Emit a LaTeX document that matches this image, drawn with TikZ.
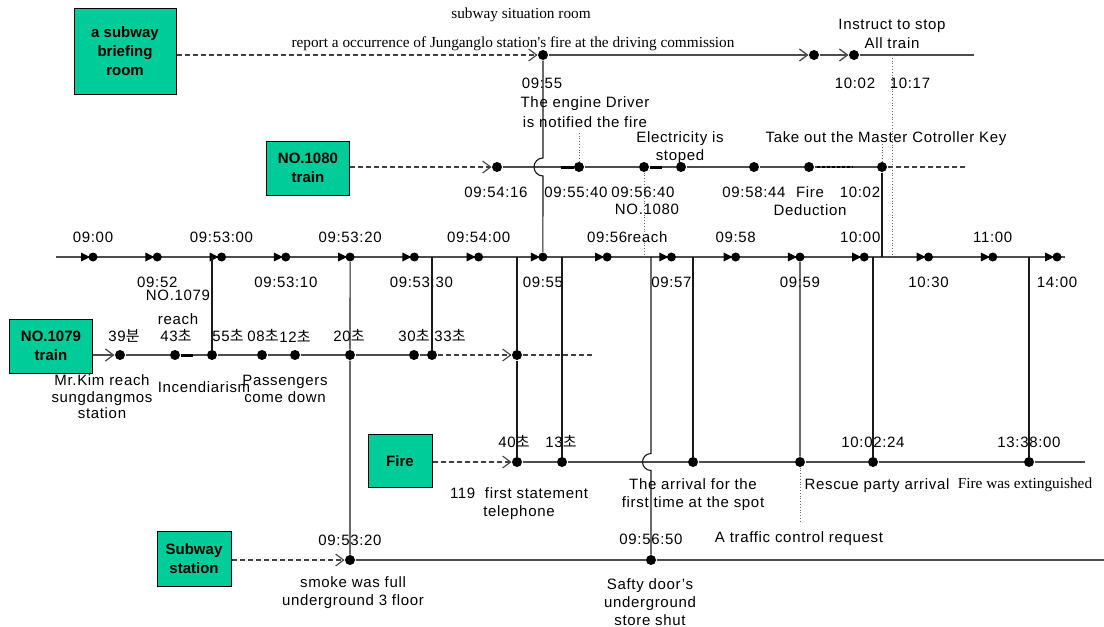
\documentclass[tikz,border=0pt]{standalone}
\usepackage{fontspec}
\setmainfont{Liberation Sans}[LetterSpace=4.5]
\newfontfamily\boxfont{Liberation Sans}
\newfontfamily\timesfont{Liberation Serif}
\newfontfamily\krfont{Noto Sans CJK KR}
\usetikzlibrary{arrows.meta}
\usetikzlibrary{positioning}
\definecolor{boxgreen}{RGB}{0,204,153}
\newcommand{\cho}{{\krfont 초}}
\newcommand{\bun}{{\krfont 분}}
\tikzset{
    box/.style={draw=black, line width=1pt, fill=boxgreen, align=center, inner sep=0pt,
        font=\boxfont\bfseries\fontsize{15}{19}\selectfont},
    tdot/.style={circle, fill=black, inner sep=0pt, minimum size=10pt},
    mdot/.style={circle, fill=black, inner sep=0pt, minimum size=9pt},
    hline/.style={draw=black!70, line width=1.3pt},
    vline/.style={draw=black!90, line width=1.1pt},
    dashline/.style={draw=black!75, line width=1.1pt, dash pattern=on 5pt off 3pt},
    dotline/.style={draw=black!60, line width=0.8pt, dotted},
    barb/.style={-{Straight Barb[length=8pt,width=12pt]}},
    lbl/.style={inner sep=0pt, align=center, font=\fontsize{15}{18}\selectfont},
    tight/.style={inner sep=0pt, align=center, font=\fontsize{15}{16.5}\selectfont},
    tms/.style={inner sep=0pt, font=\timesfont\fontsize{15.3}{18}\selectfont},
}
\begin{document}
\begin{tikzpicture}[x=1pt, y=-1pt, line width=1pt]
\useasboundingbox (0,0) rectangle (1104,627);
	\node[box, minimum width=102pt, minimum height=86pt] (brief) at (125,51) {a subway\\briefing\\room};
	\node[box, minimum width=83pt, minimum height=54pt] (n1080) at (308,168) {NO.1080\\train};
	\node[box, minimum width=83pt, minimum height=54pt] (n1079) at (51,346) {NO.1079\\train};
	\node[box, minimum width=64pt, minimum height=53pt] (fire) at (400,461) {Fire};
	\node[box, minimum width=74pt, minimum height=55pt] (station) at (194,559) {Subway\\station};
% subway situation room
	\node[tdot] (T1) at (543,55) {};
	\node[tdot] (T2) at (814,55) {};
	\node[tdot] (T3) at (854,55) {};
	\coordinate (Tend) at (974,55);
	\coordinate (D1) at (892,55);
	\draw[dashline, barb] (brief.east |- T1) -- (T1);
	\draw[hline, barb] (T1) -- (T2);
	\draw[hline, barb] (T2) -- (T3);
	\draw[hline] (T3) -- (Tend);
% main time line
	\coordinate (ml) at (56,257);
	\coordinate (mr) at (1065,257);
	\draw[hline] (ml) -- (mr);
	\foreach \dx/\t [count=\i] in {0/09:00,0/09:52,0/09:53:00,0/09:53:10,0/09:53:20,7/09:53:30,0/09:54:00,0/09:55,
	    0/{09:56\rlap{reach}},0/09:57,0/09:58,0/09:59,-4/10:00,0/10:30,0/11:00,0/14:00} {
	    \pgfmathsetmacro{\x}{93+(\i-1)*64.27}
	    \node[mdot] (m\i) at (\x,257) {};
	    \fill[black] (\x-12,252.5) -- (\x-12,261.5) -- (\x-3,257) -- cycle;
	    \ifodd\i\relax
	        \node[lbl] (mt\i) at (\x+\dx,237) {\t};
	    \else
	        \node[lbl] (mt\i) at (\x+\dx,282) {\t};
	    \fi
	}
% NO.1080 train
	\foreach \x [count=\i] in {497,579,644,681,754,809,882}
	    \node[tdot] (A\i) at (\x,167) {};
	\coordinate (Aend) at (966,167);
	\coordinate (J1) at (543,158);
	\draw[dashline, barb] (n1080.east |- A1) -- (A1);
	\draw[hline] (A1) -- (A2) -- (A3) -- (A4) -- (A5) -- (A6) -- (A7);
	\draw[dashline] (A7) -- (Aend);
	\draw[black, line width=3pt] (A2) -- ++(-18,0);
	\draw[black, line width=3pt] (A3) -- ++(18,0);
	\draw[black, line width=1.4pt, dash pattern=on 3pt off 2pt] (A6) ++(8,0) -- ++(36,0);
% NO.1079 train
	\foreach \x [count=\i] in {120,175,212,262,295,350,414,432,517}
	    \node[tdot] (B\i) at (\x,355) {};
	\coordinate (Bend) at (592,355);
	\draw[hline, barb] (n1079.east |- B1) -- (B1);
	\draw[hline] (B1) -- (B2) -- (B3) -- (B4) -- (B5) -- (B6) -- (B7) -- (B8);
	\draw[dashline, barb] (B8) -- (B9);
	\draw[dashline] (B9) -- (Bend);
	\draw[black, line width=3pt] (B2) -- ++(18,0);
% Fire
	\foreach \x [count=\i] in {517,562,693,800,873,1029}
	    \node[tdot] (F\i) at (\x,462) {};
	\coordinate (Fend) at (1085,462);
	\coordinate (J2) at (651,453.5);
	\draw[dashline, barb] (fire.east |- F1) -- (F1);
	\draw[hline] (F1) -- (F2) -- (F3) -- (F4) -- (F5) -- (F6) -- (Fend);
% Subway station
	\node[tdot] (S1) at (350,560) {};
	\node[tdot] (S2) at (651,560) {};
	\coordinate (Send) at (1104,560);
	\draw[dashline, barb] (station.east |- S1) -- (S1);
	\draw[hline] (S1) -- (S2) -- (Send);
% vertical links
	\draw[vline] (T1) -- (J1) arc (270:90:9) -- (m8);
	\draw[vline] (A7) -- (A7 |- ml);
	\draw[vline] (B3 |- ml) -- (B3);
	\draw[vline] (m5) -- (B6) -- (S1);
	\draw[vline] (B8 |- ml) -- (B8);
	\draw[vline] (B9 |- ml) -- (B9) -- (F1);
	\draw[vline] (F2 |- ml) -- (F2);
	\draw[vline] (S2 |- ml) -- (J2) arc (270:90:8.5) -- (S2);
	\draw[vline] (F3 |- ml) -- (F3);
	\draw[vline] (m12) -- (F4);
	\draw[vline] (F5 |- ml) -- (F5);
	\draw[vline] (F6 |- ml) -- (F6);
	\draw[dotline] (D1) -- (D1 |- ml);
	\draw[dotline] (A3) -- (A3 |- ml);
	\draw[dotline] (A2) -- ++(0,-34);
	\draw[dotline] (A7) -- ++(0,-24);
	\draw[dotline] (F4) -- ++(0,60);
% labels
	\node[tms] (sitroom) at (521,15) {subway situation room};
	\node[tms] (report) at (513,44) {report a occurrence of Junganglo station's fire at the driving commission};
	\node[lbl] (stop) at (892,34) {Instruct to stop\\[1pt]All train};
	\node[lbl] (t1002) at (855,83) {10:02};
	\node[lbl] (t1017) at (910,83) {10:17};
	\node[lbl] (t0955) at (542,83) {09:55};
	\node[lbl] (driver) at (585,112) {The engine Driver\\[2pt]is notified the fire};
	\node[lbl] (a1t) at (496,192) {09:54:16};
	\node[lbl] (a2t) at (576,192) {09:55:40};
	\node[lbl] (a3t) at (643,192) {09:56:40};
	\node[lbl] (a3n) at (647,209) {NO.1080};
	\node[lbl] (elec) at (680,148) {Electricity is\\stoped};
	\node[lbl] (a5t) at (754,192) {09:58:44};
	\node[lbl] (deduct) at (810,201) {Fire\\Deduction};
	\node[lbl] (a7t) at (860,192) {10:02};
	\node[lbl] (master) at (886,139) {Take out the Master Cotroller Key};
	\node[lbl] (b52) at (178,295) {NO.1079};
	\node[lbl] (breach) at (178,319) {reach};
	\node[lbl] (b1t) at (124,336) {39\bun};
	\node[lbl] (b2t) at (176,336) {43\cho};
	\node[lbl] (b3t) at (228,336) {55\cho};
	\node[lbl] (b4t) at (263,336) {08\cho};
	\node[lbl] (b5t) at (295,336) {12\cho};
	\node[lbl] (b6t) at (349,336) {20\cho};
	\node[lbl] (b7t) at (414,336) {30\cho};
	\node[lbl] (b8t) at (450,336) {33\cho};
	\node[tight] (kim) at (102,397) {Mr.Kim reach\\sungdangmos\\station};
	\node[lbl] (incend) at (204,387) {Incendiarism};
	\node[tight] (pass) at (285,389) {Passengers\\come down};
	\node[lbl] (f1t) at (514,442) {40\cho};
	\node[lbl] (f2t) at (561,442) {13\cho};
	\node[lbl] (f5t) at (873,442) {10:02:24};
	\node[lbl] (f6t) at (1029,442) {13:38:00};
	\node[lbl] (tel) at (519,504) {119\ \ first statement\\telephone};
	\node[lbl] (arrival) at (693,495) {The arrival for the\\first time at the spot};
	\node[lbl] (rescue) at (877,486) {Rescue party arrival};
	\node[tms] (extin) at (1025,485) {Fire was extinguished};
	\node[lbl] (s1t) at (350,540) {09:53:20};
	\node[lbl] (smoke) at (353,593) {smoke was full\\underground 3 floor};
	\node[lbl] (s2t) at (651,539) {09:56:50};
	\node[lbl] (traffic) at (799,539) {A traffic control request};
	\node[lbl] (safty) at (650,602) {Safty door’s\\underground\\store shut};
\end{tikzpicture}
\end{document}
